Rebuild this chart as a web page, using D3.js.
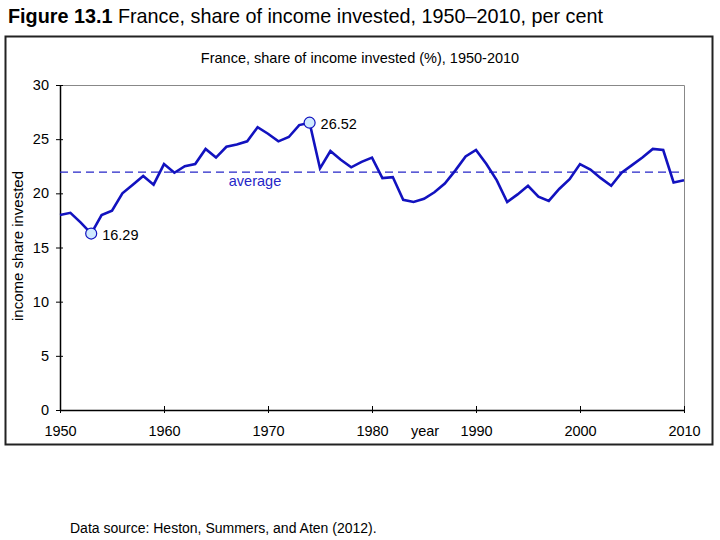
<!DOCTYPE html>
<html>
<head>
<meta charset="utf-8">
<script src="https://cdn.jsdelivr.net/npm/d3@7"></script>
<style>
  body { margin: 0; background: #fff; }
  svg { font-family: "Liberation Sans", Arial, sans-serif; }
</style>
</head>
<body>
<div id="app"></div>
<script>
// Data
const years = d3.range(1950, 2011);
const shares = [
  18.0, 18.2, 17.3, 16.29, 18.0, 18.4, 20.0, 20.8, 21.6, 20.8,
  22.7, 21.9, 22.5, 22.7, 24.1, 23.3, 24.3, 24.5, 24.8, 26.1,
  25.5, 24.8, 25.2, 26.3, 26.52, 22.3, 23.9, 23.1, 22.4, 22.9,
  23.3, 21.4, 21.5, 19.4, 19.2, 19.5, 20.1, 20.9, 22.1, 23.4,
  24.0, 22.7, 21.2, 19.2, 19.9, 20.7, 19.7, 19.3, 20.4, 21.3,
  22.7, 22.2, 21.4, 20.7, 21.9, 22.6, 23.3, 24.1, 24.0, 21.0,
  21.2
];
const average = 21.95;
const yTicks = [0, 5, 10, 15, 20, 25, 30];
const xTicks = [1950, 1960, 1970, 1980, 1990, 2000, 2010];
const callouts = [
  { year: 1953, label: '16.29' },
  { year: 1974, label: '26.52' }
];

const width = 720, height = 540;
const plot = { left: 60, top: 85, right: 684, bottom: 410 };

const svg = d3.select('#app').append('svg')
    .attr('width', width)
    .attr('height', height);

// Heading
const heading = svg.append('text')
    .attr('x', 8)
    .attr('y', 23)
    .style('font-size', '19.8px')
    .attr('fill', '#000');
heading.append('tspan').style('font-weight', 'bold').text('Figure 13.1');
heading.append('tspan').text(' France, share of income invested, 1950\u20132010, per cent');

// Outer frame
svg.append('rect')
    .attr('x', 5.5).attr('y', 36.5)
    .attr('width', 707).attr('height', 408)
    .attr('fill', 'none')
    .attr('stroke', '#222')
    .attr('stroke-width', 2);

svg.append('text')
    .attr('x', 360)
    .attr('y', 63)
    .attr('text-anchor', 'middle')
    .style('font-size', '14.5px')
    .text('France, share of income invested (%), 1950-2010');

const x = d3.scaleLinear().domain([1950, 2010]).range([plot.left, plot.right]);
const y = d3.scaleLinear().domain([0, 30]).range([plot.bottom, plot.top]);

// Plot border (top / right, grey)
svg.append('path')
    .attr('d', `M${plot.left},${plot.top + 0.5}H${plot.right + 0.5}V${plot.bottom}`)
    .attr('fill', 'none')
    .attr('stroke', '#888')
    .attr('stroke-width', 1);

// Y axis
const yAxis = svg.append('g')
    .attr('transform', `translate(${plot.left},0)`)
    .call(d3.axisLeft(y).tickValues(yTicks).tickSize(4).tickPadding(7).tickSizeOuter(0));
yAxis.selectAll('line').attr('x2', -4).attr('x1', 3);
yAxis.select('.domain').attr('stroke-width', 1.5);

// X axis
const xAxis = svg.append('g')
    .attr('transform', `translate(0,${plot.bottom})`)
    .call(d3.axisBottom(x).tickValues(xTicks).tickFormat(d3.format('d')).tickSize(4).tickPadding(12).tickSizeOuter(0));
xAxis.selectAll('line').attr('y1', -4).attr('y2', 3);
xAxis.select('.domain').attr('stroke-width', 1.5);

svg.selectAll('.tick text').style('font-size', '14.5px').attr('fill', '#000');

svg.append('text')
    .attr('x', 425)
    .attr('y', 436)
    .attr('text-anchor', 'middle')
    .style('font-size', '14.5px')
    .text('year');

svg.append('text')
    .attr('transform', `translate(23,246) rotate(-90)`)
    .attr('text-anchor', 'middle')
    .style('font-size', '15px')
    .text('income share invested');

// Average line
svg.append('line')
    .attr('x1', plot.left).attr('x2', plot.right)
    .attr('y1', y(average)).attr('y2', y(average))
    .attr('stroke', '#2626c8')
    .attr('stroke-width', 1.3)
    .attr('stroke-dasharray', '8,5');

svg.append('text')
    .attr('x', 255)
    .attr('y', y(average) + 14)
    .attr('text-anchor', 'middle')
    .attr('fill', '#2626c8')
    .style('font-size', '14.5px')
    .text('average');

// Series
const line = d3.line()
    .x((d, i) => x(years[i]))
    .y(d => y(d));

svg.append('path')
    .datum(shares)
    .attr('d', line)
    .attr('fill', 'none')
    .attr('stroke', '#1212bf')
    .attr('stroke-width', 2.6)
    .attr('stroke-linejoin', 'miter');

// Min / max markers
callouts.forEach(c => {
    const v = shares[years.indexOf(c.year)];
    svg.append('circle')
        .attr('cx', x(c.year))
        .attr('cy', y(v))
        .attr('r', 5.5)
        .attr('fill', '#cfeaff')
        .attr('stroke', '#1212bf')
        .attr('stroke-width', 1.2);
    svg.append('text')
        .attr('x', x(c.year) + 11)
        .attr('y', y(v) + 6)
        .style('font-size', '14.5px')
        .text(c.label);
});

svg.append('text')
    .attr('x', 70)
    .attr('y', 533)
    .style('font-size', '14px')
    .text('Data source: Heston, Summers, and Aten (2012).');
</script>
</body>
</html>
